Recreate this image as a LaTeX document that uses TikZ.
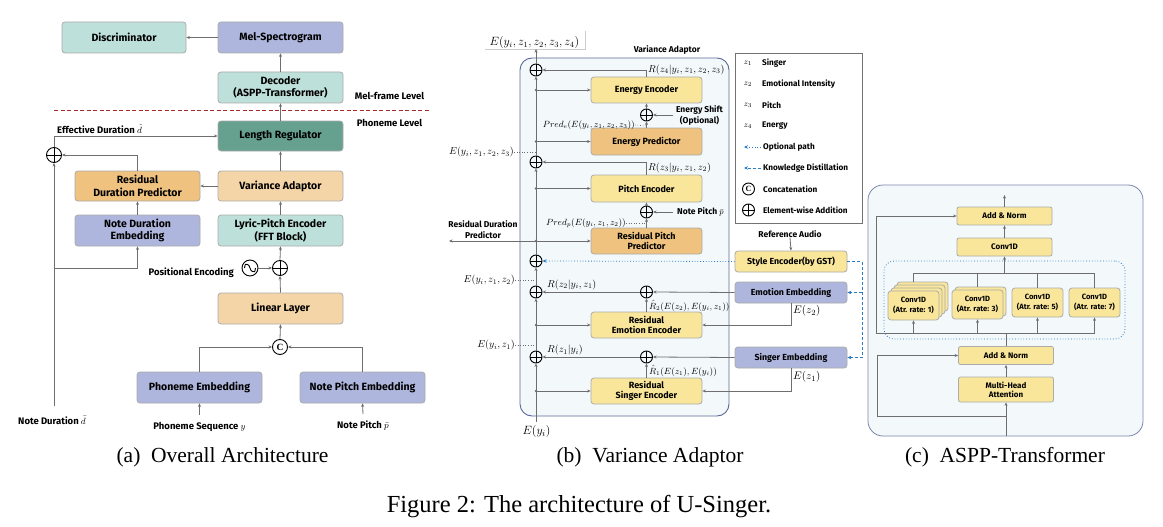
\documentclass[tikz,border=0pt]{standalone}
\usepackage{fontspec}
\setmainfont{Liberation Serif}
\newfontfamily\lbl{Fira Sans}
\usetikzlibrary{arrows.meta,calc}
\definecolor{cteal}{HTML}{BDE0DA}
\definecolor{clav}{HTML}{AFB6DD}
\definecolor{cdteal}{HTML}{66A08F}
\definecolor{corange}{HTML}{EFC27F}
\definecolor{clorange}{HTML}{F4D5A8}
\definecolor{cyellow}{HTML}{F9E69A}
\definecolor{cbord}{HTML}{ABABAB}
\definecolor{carrow}{HTML}{6E6E6E}
\definecolor{cframe}{HTML}{5B6897}
\definecolor{cbg}{HTML}{F3F9FB}
\definecolor{cblue}{HTML}{2A7BC6}
\definecolor{cred}{HTML}{A52A2A}
\tikzset{
  box/.style={draw=cbord, rounded corners=3pt, line width=0.8pt, align=center, inner sep=1pt},
  abox/.style={box, minimum width=125pt, minimum height=31pt, font=\lbl\bfseries\fontsize{10.5}{12.5}\selectfont},
  bbox/.style={box, minimum width=111pt, minimum height=26pt, font=\lbl\bfseries\fontsize{9}{10.5}\selectfont},
  sbox/.style={box, minimum width=112pt, minimum height=21pt, font=\lbl\bfseries\fontsize{8.8}{10}\selectfont},
  cbox/.style={box, rounded corners=2pt, minimum width=95pt, minimum height=18pt, font=\lbl\bfseries\fontsize{8}{9}\selectfont},
  convbox/.style={box, rounded corners=3pt, fill=cyellow, minimum width=51pt, minimum height=29pt, font=\lbl\bfseries\fontsize{7.6}{9.5}\selectfont},
  arr/.style={-{Stealth[length=3.5pt,width=3pt]}, draw=carrow, line width=0.8pt},
  ln/.style={draw=carrow, line width=0.8pt},
  dotl/.style={draw=carrow, line width=0.6pt, dotted},
  opt/.style={-{Stealth[length=4pt,width=3.5pt]}, draw=cblue, line width=0.8pt, dotted},
  kd/.style={-{Stealth[length=4pt,width=3.5pt]}, draw=cblue, line width=0.8pt, dash pattern=on 3pt off 2pt},
  labA/.style={font=\lbl\bfseries\fontsize{9.5}{11}\selectfont, inner sep=0pt, align=center},
  lab/.style={font=\lbl\bfseries\fontsize{8.5}{10.5}\selectfont, inner sep=0pt, align=center},
  mlab/.style={font=\fontsize{10}{11}\selectfont, inner sep=0pt},
  mlabL/.style={font=\fontsize{11}{12}\selectfont, inner sep=0pt},
  mlabS/.style={font=\fontsize{9.2}{10}\selectfont, inner sep=0pt},
  captxt/.style={font=\fontsize{21.5}{24}\selectfont, inner sep=0pt},
  oplus/.style={circle, draw=black, line width=0.9pt, minimum size=#1, inner sep=0pt,
    path picture={\draw[line width=0.9pt] (path picture bounding box.north) -- (path picture bounding box.south) (path picture bounding box.west) -- (path picture bounding box.east);}},
  oplus/.default=13pt,
  catn/.style={circle, draw=black, line width=0.9pt, minimum size=#1, inner sep=0pt, font=\bfseries\fontsize{9.5}{9.5}\selectfont},
  catn/.default=15pt,
  jdot/.style={circle, fill=carrow, inner sep=0pt, minimum size=2.6pt}
}
\begin{document}
\begin{tikzpicture}[x=1pt,y=-1pt]
\useasboundingbox (0,0) rectangle (1163,527);
\fill[white] (0,0) rectangle (1163,527);

% ================= (a) =================
\node[abox, fill=cteal, minimum width=124pt] (disc) at (124,37.5) {Discriminator};
\node[abox, fill=clav] (mel) at (280.5,37.5) {Mel-Spectrogram};
\node[abox, fill=cteal] (dec) at (280.5,87.5) {Decoder\\(ASPP-Transformer)};
\node[abox, fill=cdteal, minimum height=30pt] (lr) at (280.5,136) {Length Regulator};
\node[abox, fill=corange, minimum height=30pt] (rdp) at (137.5,186) {Residual\\Duration Predictor};
\node[abox, fill=clorange, minimum height=30pt] (va) at (280.5,186) {Variance Adaptor};
\node[abox, fill=clav] (nde) at (137.5,230.5) {Note Duration\\Embedding};
\node[abox, fill=cteal] (lpe) at (280.5,230.5) {Lyric-Pitch Encoder\\(FFT Block)};
\node[abox, fill=clorange] (lin) at (280.5,308.5) {Linear Layer};
\node[abox, fill=clav] (phe) at (199.5,387.5) {Phoneme Embedding};
\node[abox, fill=clav] (npe) at (362.5,387.5) {Note Pitch Embedding};

\node[oplus=15pt] (plusA) at (54,155) {};
\node[oplus=15pt] (plusPE) at (280,268) {};
\node[circle, draw=black, line width=0.9pt, minimum size=16pt, inner sep=0pt] (sine) at (250,268) {};
\draw[line width=0.9pt] ([xshift=-5.5pt]sine.center) .. controls ++(1,-5) and ++(-2.5,0) .. ([xshift=-2.5pt,yshift=3.5pt]sine.center) .. controls ++(2.5,0) and ++(-2.5,0) .. ([xshift=2.5pt,yshift=-3.5pt]sine.center) .. controls ++(2.5,0) and ++(-1,5) .. ([xshift=5.5pt]sine.center);
\node[catn] (cat) at (280,347) {C};

\node[labA, anchor=west] (effd) at (57,129) {Effective Duration $\hat{d}$};
\node[labA] (melfl) at (389.5,96) {Mel-frame Level};
\node[labA] (phl) at (389.5,123) {Phoneme Level};
\node[labA, anchor=east] (posl) at (234,273) {Positional Encoding};
\node[labA] (phs) at (199.5,426.5) {Phoneme Sequence $y$};
\node[labA] (npl) at (363,425.5) {Note Pitch $\bar{p}$};
\node[labA] (ndl) at (52,420.5) {Note Duration $\bar{d}$};

\draw[cred, line width=1pt, dash pattern=on 4pt off 2.5pt] (54,111) -- (430,111);

\coordinate (ndb) at (54,406);
\coordinate (ndj) at (54,268);
\coordinate (phsa) at (199.5,415);
\coordinate (npla) at (363,414);

\draw[arr] (mel.west) -- (disc.east);
\draw[arr] (dec.north) -- (mel.south);
\draw[arr] (lr.north) -- (dec.south);
\draw[arr] (va.north) -- (lr.south);
\draw[arr] (va.west) -- (rdp.east);
\draw[arr] (lpe.north) -- (va.south);
\draw[arr] (nde.north) -- (rdp.south);
\draw[arr] (plusPE.north) -- (lpe.south);
\draw[arr] (sine.east) -- (plusPE.west);
\draw[arr] (lin.north) -- (plusPE.south);
\draw[arr] (cat.north) -- (lin.south);
\draw[arr] (phe.north) |- (cat.west);
\draw[arr] (npe.north) |- (cat.east);
\draw[arr] (rdp.north) |- (plusA.east);
\draw[arr] (plusA.north) |- (lr.west);
\draw[arr] (ndb) -- (plusA.south);
\draw[arr] (ndj) -| (nde.south);
\draw[arr] (phsa) -- (phe.south);
\draw[arr] (npla) -- (npe.south);

% ================= (b) =================
\node[draw=cframe, fill=cbg, line width=0.9pt, rounded corners=12pt, minimum width=209pt, minimum height=358pt, inner sep=0pt] (vaf) at (624.5,237) {};
\node[lab] (vat) at (667,50) {Variance Adaptor};

\node[font=\fontsize{11.8}{13}\selectfont, inner sep=0pt] (etop) at (534.5,42.5) {$E(y_i,z_1,z_2,z_3,z_4)$};
\draw[black!20, line width=0.5pt] (485,49) -| (585,31);
\node[font=\fontsize{12.5}{13}\selectfont, inner sep=0pt] (ebot) at (536.5,431.5) {$E(y_i)$};

\node[bbox, fill=cyellow] (ee) at (646.5,90) {Energy Encoder};
\node[bbox, fill=corange, minimum height=27pt] (ep) at (646.5,141.5) {Energy Predictor};
\node[bbox, fill=cyellow, minimum height=27pt] (pen) at (646.5,188.5) {Pitch Encoder};
\node[bbox, fill=corange] (rpp) at (646.5,241) {Residual Pitch\\Predictor};
\node[bbox, fill=cyellow] (ree) at (646.5,325) {Residual\\Emotion Encoder};
\node[bbox, fill=cyellow] (rse) at (646.5,391) {Residual\\Singer Encoder};

\node[sbox, fill=cyellow] (se) at (791,261.5) {Style Encoder(by GST)};
\node[sbox, fill=clav] (emb2) at (791,292.5) {Emotion Embedding};
\node[sbox, fill=clav] (emb1) at (791,357.5) {Singer Embedding};

\node[oplus=12pt] (p4) at (536,70) {};
\node[oplus=12pt] (p3) at (536,162) {};
\node[oplus=12pt] (pst) at (536,261) {};
\node[oplus=12pt] (p2) at (536,292) {};
\node[oplus=12pt] (p1) at (536,357) {};
\node[oplus=12pt] (qe) at (646.5,115) {};
\node[oplus=12pt] (qp) at (646.5,212) {};
\node[oplus=12pt] (q2) at (646.5,292) {};
\node[oplus=12pt] (q1) at (646.5,357) {};

\coordinate (mtop) at (536,49);
\coordinate (mbot) at (536,422);
\draw[arr] (mbot) -- (p1.south);
\draw[arr] (p1.north) -- (p2.south);
\draw[arr] (p2.north) -- (pst.south);
\draw[arr] (pst.north) -- (p3.south);
\draw[arr] (p3.north) -- (p4.south);
\draw[arr] (p4.north) -- (mtop);

\coordinate (bee) at (536,90);
\coordinate (bep) at (536,141.5);
\coordinate (bpen) at (536,188.5);
\coordinate (brpp) at (536,241);
\coordinate (bree) at (536,325);
\coordinate (brse) at (536,391);
\coordinate (rdo) at (449,241);
\foreach \c in {bee,bep,bpen,brpp,bree,brse} \node[jdot] at (\c) {};
\draw[arr] (bee) -- (ee.west);
\draw[arr] (bep) -- (ep.west);
\draw[arr] (bpen) -- (pen.west);
\draw[arr] (brpp) -- (rpp.west);
\draw[arr] (bree) -- (ree.west);
\draw[arr] (brse) -- (rse.west);
\draw[arr] (brpp) -- (rdo);
\node[lab] (rdpl) at (483,229.5) {Residual Duration\\Predictor};

\draw[arr] (ee.north) |- (p4.east);
\node[mlab, anchor=west] (r4) at (648,70) {$R(z_4|y_i,z_1,z_2,z_3)$};
\draw[arr] (ep.north) -- (qe.south);
\draw[arr] (qe.north) -- (ee.south);
\coordinate (esa) at (673,115);
\draw[arr] (esa) -- (qe.east);
\node[lab] (esl) at (699.5,115.5) {Energy Shift\\(Optional)};
\node[mlabS, anchor=east] (prede) at (635,125) {$Pred_e(E(y_i,z_1,z_2,z_3))$};
\coordinate (prdc) at (646.5,126);
\draw[dotl] (prede.east) -- (prdc);

\draw[arr] (pen.north) |- (p3.east);
\node[mlab, anchor=west] (r3) at (648,168) {$R(z_3|y_i,z_1,z_2)$};
\draw[arr] (rpp.north) -- (qp.south);
\draw[arr] (qp.north) -- (pen.south);
\coordinate (npa) at (673,212);
\draw[arr] (npa) -- (qp.east);
\node[lab, anchor=west] (npbl) at (677,212) {Note Pitch $\bar{p}$};
\node[mlabS, anchor=east] (predp) at (626,223) {$Pred_p(E(y_i,z_1,z_2))$};
\coordinate (prpc) at (646.5,223);
\draw[dotl] (predp.east) -- (prpc);

\node[mlab, anchor=east] (e3) at (514,152) {$E(y_i,z_1,z_2,z_3)$};
\coordinate (m3) at (536,152);
\draw[dotl] (e3.east) -- (m3);
\node[mlab, anchor=east] (e2) at (515,280) {$E(y_i,z_1,z_2)$};
\coordinate (m2) at (536,280);
\draw[dotl] (e2.east) -- (m2);
\node[mlab, anchor=east] (e1) at (515,345) {$E(y_i,z_1)$};
\coordinate (m1) at (536,345);
\draw[dotl] (e1.east) -- (m1);

\draw[opt] (se.west) -- (pst.east);

\draw[arr] (q2.west) -- (p2.east);
\node[mlab, anchor=west] (r2) at (547,284.5) {$R(z_2|y_i,z_1)$};
\draw[arr] (ree.north) -- (q2.south);
\node[mlabS, anchor=west] (rh2) at (649,306) {$\hat{R}_2(E(z_2),E(y_i,z_1))$};
\draw[arr] (emb2.west) -- (q2.east);
\node[mlabL, anchor=west] (ez2) at (793,311) {$E(z_2)$};
\draw[arr] (emb2.south) |- (ree.east);

\draw[arr] (q1.west) -- (p1.east);
\node[mlab, anchor=west] (r1) at (547,350) {$R(z_1|y_i)$};
\draw[arr] (rse.north) -- (q1.south);
\node[mlabS, anchor=west] (rh1) at (649,371) {$\hat{R}_1(E(z_1),E(y_i))$};
\draw[arr] (emb1.west) -- (q1.east);
\node[mlabL, anchor=west] (ez1) at (793,377) {$E(z_1)$};
\draw[arr] (emb1.south) |- (rse.east);

\node[lab] (refa) at (790,234) {Reference Audio};
\draw[arr] (refa.south) -- (se.north);

\coordinate (kd1) at (862,261.5);
\coordinate (kd2) at (862,292.5);
\draw[kd] (se.east) -- (kd1) |- (emb1.east);
\draw[kd] (kd2) -- (emb2.east);

% legend
\node[draw=black!55, line width=0.6pt, minimum width=127pt, minimum height=170pt, inner sep=0pt] (legend) at (798.5,138) {};
\tikzset{legt/.style={font=\lbl\bfseries\fontsize{8.2}{9}\selectfont, inner sep=0pt, anchor=west}}
\node[font=\fontsize{8.5}{9}\selectfont] at (748,63) {$z_1$};
\node[legt] at (762,63) {Singer};
\node[font=\fontsize{8.5}{9}\selectfont] at (748,84) {$z_2$};
\node[legt] at (762,84) {Emotional Intensity};
\node[font=\fontsize{8.5}{9}\selectfont] at (748,105) {$z_3$};
\node[legt] at (762,105) {Pitch};
\node[font=\fontsize{8.5}{9}\selectfont] at (748,126) {$z_4$};
\node[legt] at (762,126) {Energy};
\coordinate (lo1) at (761,147); \coordinate (lo2) at (744,147);
\draw[opt] (lo1) -- (lo2);
\node[legt] at (763,147) {Optional path};
\coordinate (lk1) at (761,168); \coordinate (lk2) at (744,168);
\draw[kd] (lk1) -- (lk2);
\node[legt] at (763,168) {Knowledge Distillation};
\node[catn=12pt, font=\bfseries\fontsize{8}{8}\selectfont] at (748.5,189) {C};
\node[legt] at (763,189) {Concatenation};
\node[oplus=12pt] at (748.5,210) {};
\node[legt] at (763,210) {Element-wise Addition};

% ================= (c) =================
\node[draw=cframe!80, fill=cbg, line width=0.8pt, rounded corners=15pt, minimum width=275pt, minimum height=251pt, inner sep=0pt] (cf) at (1005.5,310.5) {};
\node[draw=cblue, line width=0.8pt, dotted, rounded corners=10pt, minimum width=241pt, minimum height=78pt, inner sep=0pt] (aspp) at (1004.5,300) {};

\node[cbox, fill=cyellow] (an2) at (1004.5,216) {Add \& Norm};
\node[cbox, fill=cyellow] (conv) at (1004.5,247) {Conv1D};
\node[cbox, fill=cyellow] (an1) at (1006,355.5) {Add \& Norm};
\node[cbox, fill=cyellow, minimum height=25pt] (mha) at (1006,389.5) {Multi-Head\\Attention};

\node[convbox] (c1c) at (922.5,296.5) {};
\node[convbox] (c1b) at (919.5,299.5) {};
\node[convbox] (c1a) at (916.5,302.5) {};
\node[convbox] (c1) at (913.5,305.5) {Conv1D\\(Atr. rate: 1)};
\node[convbox] (c3a) at (980.5,301.5) {};
\node[convbox] (c3) at (977.5,304.5) {Conv1D\\(Atr. rate: 3)};
\node[convbox] (c5) at (1037.5,302.5) {Conv1D\\(Atr. rate: 5)};
\node[convbox] (c7) at (1094.5,302.5) {Conv1D\\(Atr. rate: 7)};

\coordinate (tj) at (1004.5,273);
\coordinate (tl) at (913.5,273);
\coordinate (tr) at (1094.5,273);
\coordinate (bj) at (1006,333);
\coordinate (bl) at (876,333);
\coordinate (br) at (1094.5,333);
\draw[ln] (tl) -- (tr);
\draw[ln] (c1c.north -| c1.north) -- (tl);
\draw[ln] (c3a.north -| c3.north) -- (c3.north |- tj);
\draw[ln] (c5.north) -- (c5.north |- tj);
\draw[ln] (c7.north) -- (tr);
\draw[arr] (tj) -- (conv.south);
\draw[arr] (conv.north) -- (an2.south);
\coordinate (ctop) at (1004.5,195);
\draw[arr] (an2.north) -- (ctop);
\draw[ln] (bl) -- (br);
\draw[ln] (an1.north) -- (bj);
\draw[arr] (c1.south |- bj) -- (c1.south);
\draw[arr] (c3.south |- bj) -- (c3.south);
\draw[arr] (c5.south |- bj) -- (c5.south);
\draw[arr] (br) -- (c7.south);
\draw[arr] (bl) |- (an2.west);
\draw[arr] (mha.north) -- (an1.south);
\coordinate (cin) at (1006,436);
\coordinate (cbr) at (1006,416);
\coordinate (cbl) at (877,416);
\draw[arr] (cin) -- (mha.south);
\draw[arr] (cbr) -- (cbl) |- (an1.west);

% captions
\node[captxt] (capa) at (222.5,457) {(a)\enspace Overall Architecture};
\node[captxt] (capb) at (650,457) {(b)\enspace Variance Adaptor};
\node[captxt] (capc) at (1005,457) {(c)\enspace ASPP-Transformer};
\node[font=\fontsize{24.5}{28}\selectfont, inner sep=0pt] (capf) at (579,507) {Figure 2: The architecture of U-Singer.};
\end{tikzpicture}
\end{document}
